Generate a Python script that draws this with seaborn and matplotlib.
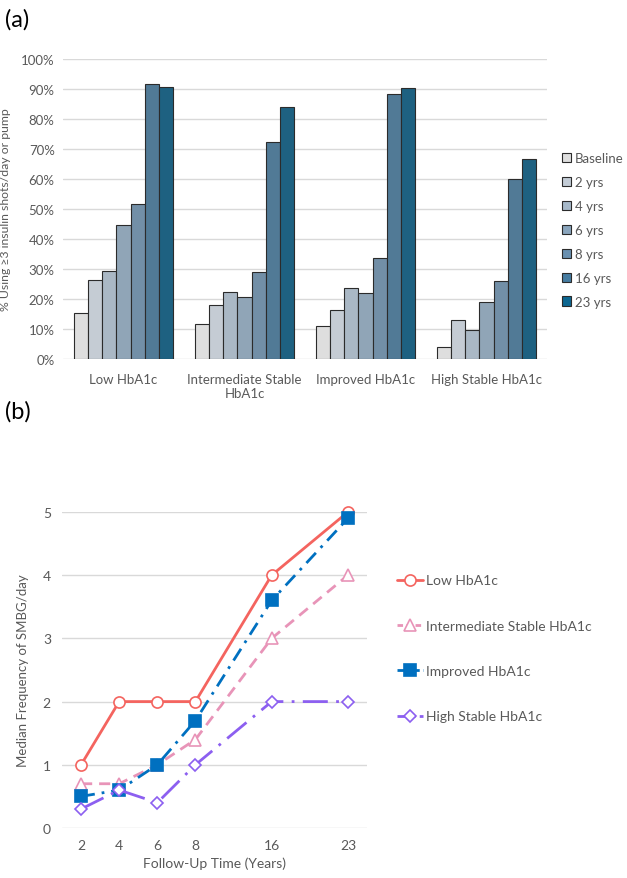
import pandas as pd
import seaborn as sns
import matplotlib.pyplot as plt
from matplotlib.patches import Patch
from matplotlib.lines import Line2D

# Panel (a) data: % using >=3 insulin shots/day or pump
groups = ['Low HbA1c', 'Intermediate Stable\nHbA1c', 'Improved HbA1c', 'High Stable HbA1c']
periods = ['Baseline', '2 yrs', '4 yrs', '6 yrs', '8 yrs', '16 yrs', '23 yrs']
low_pct = [15.5, 26.2, 29.3, 44.8, 51.7, 91.7, 90.6]
inter_pct = [11.8, 18.1, 22.2, 20.6, 29.0, 72.3, 83.9]
improved_pct = [11.1, 16.3, 23.7, 22.0, 33.8, 88.2, 90.3]
high_pct = [4.0, 13.0, 9.6, 19.1, 26.1, 60.0, 66.8]
bar_colors = ['#dedede', '#c3ccd6', '#a6b8c9', '#8aa5bd', '#6990b0', '#467ca1', '#0d6791']

# Panel (b) data: median SMBG frequency per day
followup = ['2', '4', '6', '8', '16', '23']
followup_slot = [0, 1, 2, 3, 5, 7]
series_names = ['Low HbA1c', 'Intermediate Stable HbA1c', 'Improved HbA1c', 'High Stable HbA1c']
low_smbg = [1.0, 2.0, 2.0, 2.0, 4.0, 5.0]
inter_smbg = [0.7, 0.7, 1.0, 1.4, 3.0, 4.0]
improved_smbg = [0.5, 0.6, 1.0, 1.7, 3.6, 4.9]
high_smbg = [0.3, 0.6, 0.4, 1.0, 2.0, 2.0]
line_colors = ['#f4645f', '#e894b8', '#0070c0', '#8c5ff0']
line_markers = ['o', '^', 's', 'D']
line_dashes = ['', (4, 2.5), (5, 2.5, 1, 2.5), (9, 3, 1, 3)]
hollow = [True, True, False, True]

sns.set_style('white')
plt.rcParams['font.family'] = ['Lato', 'DejaVu Sans']
txt = '#595959'
grid_c = '#d9d9d9'
fs = 9.5

fig = plt.figure(figsize=(6.27, 8.79), dpi=100)

# ---- (a) grouped bars
rows = []
for g, vals in zip(groups, [low_pct, inter_pct, improved_pct, high_pct]):
    for p, v in zip(periods, vals):
        rows.append({'group': g, 'period': p, 'pct': v})
df_a = pd.DataFrame(rows)

ax1 = fig.add_axes([0.1005, 0.5904, 0.772, 0.3413])
sns.barplot(data=df_a, x='group', y='pct', hue='period', palette=bar_colors,
            width=0.82, edgecolor='#2b2b2b', linewidth=0.8, ax=ax1, legend=False)
ax1.set_ylim(0, 100)
ax1.set_yticks(range(0, 101, 10))
ax1.set_yticklabels([f'{t}%' for t in range(0, 101, 10)])
ax1.yaxis.grid(True, color=grid_c, linewidth=1)
ax1.set_axisbelow(True)
for s in ax1.spines.values():
    s.set_visible(False)
ax1.tick_params(axis='both', length=0, labelsize=fs, colors=txt, pad=6)
ax1.tick_params(axis='x', pad=10)
ax1.set_xlabel('')
ax1.set_ylabel('% Using ≥3 insulin shots/day or pump', fontsize=8.8, color=txt, labelpad=7)
handles = [Patch(facecolor=c, edgecolor='#2b2b2b', linewidth=0.8) for c in bar_colors]
ax1.legend(handles, periods, loc='center left', bbox_to_anchor=(1.02, 0.43), frameon=False,
           fontsize=fs, labelcolor=txt, handlelength=0.7, handleheight=0.7,
           handletextpad=0.3, labelspacing=0.9, borderaxespad=0)
fig.text(0.008, 0.977, '(a)', fontsize=17, color='black', va='center')

# ---- (b) lines
rows = []
for name, vals in zip(series_names, [low_smbg, inter_smbg, improved_smbg, high_smbg]):
    for sl, v in zip(followup_slot, vals):
        rows.append({'series': name, 'slot': sl, 'smbg': v})
df_b = pd.DataFrame(rows)

ax2 = fig.add_axes([0.0989, 0.0569, 0.4864, 0.3595])
sns.lineplot(data=df_b, x='slot', y='smbg', hue='series', style='series',
             palette=dict(zip(series_names, line_colors)),
             dashes=dict(zip(series_names, line_dashes)),
             markers=dict(zip(series_names, line_markers)),
             linewidth=2, markersize=8, ax=ax2, legend=False, clip_on=False)
for ln, c, h, m in zip(ax2.get_lines(), line_colors, hollow, line_markers):
    ln.set_markeredgecolor(c)
    ln.set_markerfacecolor('white' if h else c)
    ln.set_markeredgewidth(1.2)
    if m == 'D':
        ln.set_markersize(6)
ax2.set_xlim(-0.5, 7.5)
ax2.set_ylim(0, 5)
ax2.set_xticks(followup_slot)
ax2.set_xticklabels(followup)
ax2.set_yticks(range(0, 6))
ax2.yaxis.grid(True, color=grid_c, linewidth=1)
ax2.set_axisbelow(True)
for s in ax2.spines.values():
    s.set_visible(False)
ax2.tick_params(axis='both', length=0, labelsize=fs + 0.5, colors=txt, pad=8)
ax2.set_xlabel('Follow-Up Time (Years)', fontsize=fs + 0.5, color=txt, labelpad=4)
ax2.set_ylabel('Median Frequency of SMBG/day', fontsize=fs, color=txt, labelpad=10)
leg_handles = []
for c, m, h, d in zip(line_colors, line_markers, hollow, line_dashes):
    ls = '-' if d == '' else (0, (d[0] * 0.5, d[1] * 0.5) + tuple(x * 0.5 for x in d[2:]))
    leg_handles.append(Line2D([], [], color=c, marker=m, linewidth=2,
                              markersize=(6 if m == 'D' else 8), markeredgecolor=c,
                              markerfacecolor=('white' if h else c),
                              markeredgewidth=1.2, linestyle=ls))
ax2.legend(leg_handles, series_names, loc='upper left', bbox_to_anchor=(1.08, 0.82),
           frameon=False, fontsize=fs + 0.5, labelcolor=txt, handlelength=1.9,
           handletextpad=0.2, labelspacing=2.4, borderaxespad=0)
fig.text(0.008, 0.532, '(b)', fontsize=17, color='black', va='center')

fig.savefig('out.png', dpi=100)
